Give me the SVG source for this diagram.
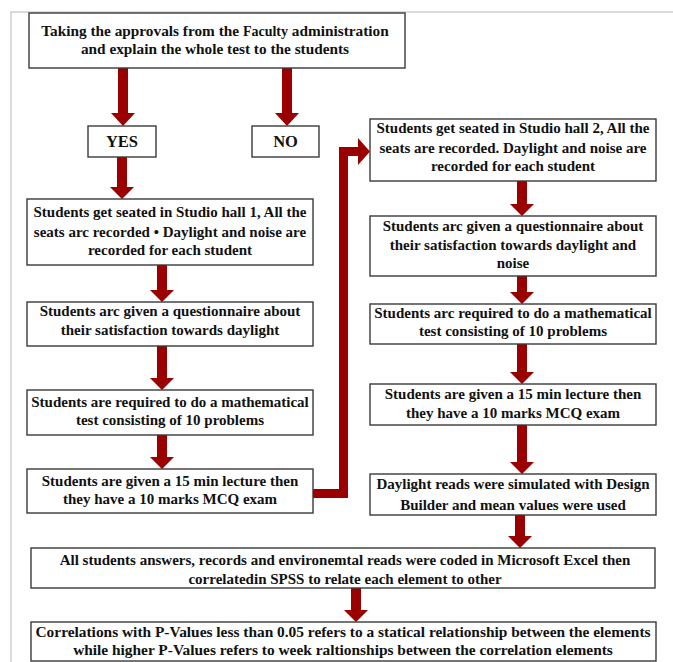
<svg xmlns="http://www.w3.org/2000/svg" width="673" height="662" viewBox="0 0 673 662">
<style>
.box{fill:#fff;stroke:#3a3a3a;stroke-width:1.4}
.t{font-family:"Liberation Serif","Times New Roman",serif;font-weight:bold;font-size:15px;fill:#111;text-anchor:middle}
.big{font-size:15.3px}
.yn{font-size:16.5px}
.wide{font-size:15.4px}
.arr{fill:#9b0000}
.frame{fill:none;stroke:#cfcfcf;stroke-width:1.5}
</style>
<rect width="673" height="662" fill="#fff"/>
<path class="frame" d="M11,662 V12 H673"/>
<g id="connectors">
<polygon class="arr" points="118,68 128,68 128,113 135,113 123,126 111,113 118,113"/>
<polygon class="arr" points="282,68 292,68 292,113 299,113 287,126 275,113 282,113"/>
<polygon class="arr" points="117,157 127,157 127,187 134,187 122,199 110,187 117,187"/>
<polygon class="arr" points="157,265 167,265 167,290 174,290 162,302 150,290 157,290"/>
<polygon class="arr" points="157,346 167,346 167,378 174,378 162,390 150,378 157,378"/>
<polygon class="arr" points="157,435 167,435 167,457 174,457 162,469 150,457 157,457"/>
<polygon class="arr" points="313,489 339,489 339,147 358,147 358,138 370,151.5 358,165 358,156 348,156 348,498 313,498"/>
<polygon class="arr" points="517,181 527,181 527,204 534,204 522,216 510,204 517,204"/>
<polygon class="arr" points="517,276 527,276 527,292 534,292 522,304 510,292 517,292"/>
<polygon class="arr" points="517,344 527,344 527,372 534,372 522,384 510,372 517,372"/>
<polygon class="arr" points="517,425 527,425 527,462 534,462 522,474 510,462 517,462"/>
<polygon class="arr" points="515,515 525,515 525,536 532,536 520,548 508,536 515,536"/>
<polygon class="arr" points="351,588 361,588 361,610 368,610 356,622 344,610 351,610"/>
</g>
<g id="n-approval">
<rect class="box" x="29" y="13" width="376" height="55"/>
<text class="t big" x="215" y="36">Taking the approvals from the <tspan font-size="14px">Faculty</tspan> administration</text>
<text class="t big" x="215" y="54">and explain the whole test to the students</text>
</g>
<g id="n-yes">
<rect class="box" x="88" y="126" width="68" height="31"/>
<text class="t yn" x="122" y="147">YES</text>
</g>
<g id="n-no">
<rect class="box" x="252" y="126" width="67" height="31"/>
<text class="t yn" x="285.5" y="147">NO</text>
</g>
<g id="n-hall1">
<rect class="box" x="27" y="199" width="286" height="66"/>
<text class="t" x="170" y="217">Students get seated in Studio hall 1, All the</text>
<text class="t" x="170" y="237">seats arc recorded • Daylight and noise are</text>
<text class="t" x="170" y="255">recorded for each student</text>
</g>
<g id="n-quest1">
<rect class="box" x="27" y="302" width="286" height="44"/>
<text class="t" x="170" y="316">Students arc given a questionnaire about</text>
<text class="t" x="170" y="335">their satisfaction towards daylight</text>
</g>
<g id="n-math1">
<rect class="box" x="27" y="390" width="286" height="45"/>
<text class="t" x="170" y="407">Students are required to do a mathematical</text>
<text class="t" x="170" y="425">test consisting of 10 problems</text>
</g>
<g id="n-lecture1">
<rect class="box" x="27" y="469" width="286" height="44"/>
<text class="t" x="170" y="486">Students are given a 15 min lecture then</text>
<text class="t" x="170" y="504">they have a 10 marks MCQ exam</text>
</g>
<g id="n-hall2">
<rect class="box" x="370" y="119" width="286" height="62"/>
<text class="t" x="513" y="133">Students get seated in Studio hall 2, All the</text>
<text class="t" x="513" y="153">seats are recorded. Daylight and noise are</text>
<text class="t" x="513" y="171">recorded for each student</text>
</g>
<g id="n-quest2">
<rect class="box" x="370" y="216" width="286" height="60"/>
<text class="t" x="513" y="231">Students arc given a questionnaire about</text>
<text class="t" x="513" y="250">their satisfaction towards daylight and</text>
<text class="t" x="513" y="268">noise</text>
</g>
<g id="n-math2">
<rect class="box" x="370" y="304" width="286" height="40"/>
<text class="t" x="513" y="318">Students arc required to do a mathematical</text>
<text class="t" x="513" y="336">test consisting of 10 problems</text>
</g>
<g id="n-lecture2">
<rect class="box" x="370" y="384" width="286" height="41"/>
<text class="t" x="513" y="399">Students are given a 15 min lecture then</text>
<text class="t" x="513" y="418">they have a 10 marks MCQ exam</text>
</g>
<g id="n-daylight">
<rect class="box" x="370" y="474" width="286" height="41"/>
<text class="t" x="513" y="489">Daylight reads were simulated with Design</text>
<text class="t" x="513" y="510">Builder and mean values were used</text>
</g>
<g id="n-excel">
<rect class="box" x="31" y="548" width="624" height="40"/>
<text class="t" x="345" y="565" font-size="14.7px">All students answers, records and environemtal reads were coded in Microsoft Excel then</text>
<text class="t" x="345" y="584" font-size="14.7px">correlatedin SPSS to relate each element to other</text>
</g>
<g id="n-final">
<rect class="box" x="31" y="622" width="625" height="39"/>
<text class="t wide" x="343" y="637">Correlations with P-Values less than 0.05 refers to a statical relationship between the elements</text>
<text class="t wide" x="343" y="655">while higher P-Values refers to week raltionships between the correlation elements</text>
</g>
</svg>
